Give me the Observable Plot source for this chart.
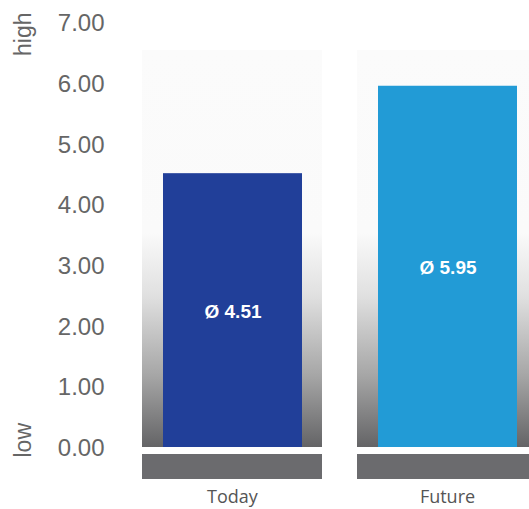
<!DOCTYPE html>
<html><head><meta charset="utf-8">
<script src="https://cdn.jsdelivr.net/npm/d3@7"></script>
<script src="https://cdn.jsdelivr.net/npm/@observablehq/plot@0.6"></script>
<style>body{margin:0;background:#fff;}</style>
</head><body><div id="chart"></div>
<script>
const categories = ["Today", "Future"];
const values = [4.51, 5.95];
const barColors = ["#213f99", "#229bd6"];
const yTicks = [0, 1, 2, 3, 4, 5, 6, 7];
const scaleEnds = ["low", "high"];
const scaleEndValues = [0, 7];
const panelTop = 6.54;

const data = categories.map((c, i) => ({cat: c, value: values[i], color: barColors[i], label: `Ø ${values[i].toFixed(2)}`}));
const ends = scaleEnds.map((t, i) => ({t, v: scaleEndValues[i]}));

const defs = () => {
  const d = d3.create("svg:defs");
  const g = d.append("linearGradient").attr("id", "panelGrad")
    .attr("x1", 0).attr("y1", 0).attr("x2", 0).attr("y2", 1);
  [[0, "#fbfbfb"], [0.46, "#fafafa"], [0.62, "#e0e0e0"], [0.82, "#a6a6a6"], [1, "#646466"]]
    .forEach(([o, c]) => g.append("stop").attr("offset", o).attr("stop-color", c));
  return d.node();
};

const sans = "Liberation Sans, Arial, sans-serif";

const chart = Plot.plot({
  width: 529, height: 509,
  marginTop: 22, marginBottom: 62, marginLeft: 0, marginRight: 0,
  style: {background: "#fff", color: "#666"},
  x: {type: "band", domain: categories, range: [142, 537], paddingInner: 0.163, paddingOuter: 0},
  y: {domain: [0, 7]},
  color: {type: "identity"},
  marks: [
    defs,
    Plot.barY(data, {x: "cat", y1: 0, y2: panelTop, fill: "url(#panelGrad)"}),
    Plot.barY(data, {x: "cat", y1: 0, y2: 0, insetTop: 7, insetBottom: -32, fill: "#6b6b6e"}),
    Plot.barY(data, {x: "cat", y1: 0, y2: "value", fill: "color", insetLeft: 21, insetRight: 20}),
    Plot.text(data, {x: "cat", y: d => d.value / 2, text: "label", dx: 0.5, dy: 1, fill: "white", fontWeight: "bold", fontSize: 19, fontFamily: sans}),
    Plot.axisY(yTicks, {anchor: "left", tickSize: 0, tickPadding: 0, dx: 104, dy: 1, tickFormat: d3.format(".2f"), fontSize: 24, fontFamily: sans, label: null}),
    Plot.axisX({anchor: "bottom", tickSize: 0, tickPadding: 43, fontSize: 18, fontFamily: "Open Sans, sans-serif", fill: "#555", label: null}),
    Plot.text(ends.filter(d => d.t === "high"), {y: "v", text: "t", frameAnchor: "left", dx: 23, dy: -10, rotate: -90, textAnchor: "end", fontSize: 23, fontFamily: sans, fill: "#666"}),
    Plot.text(ends.filter(d => d.t === "low"), {y: "v", text: "t", frameAnchor: "left", dx: 23, dy: 10, rotate: -90, textAnchor: "start", fontSize: 23, fontFamily: sans, fill: "#666"})
  ]
});
document.getElementById("chart").append(chart);
</script>
</body></html>
